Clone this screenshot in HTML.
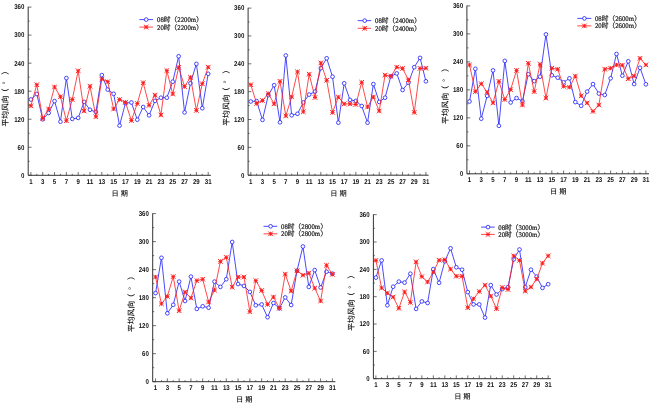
<!DOCTYPE html>
<html lang="zh"><head><meta charset="utf-8"><title>平均风向</title>
<style>
html,body{margin:0;padding:0;background:#fff}
svg{display:block}
text{text-rendering:geometricPrecision}
.t{font-family:"Liberation Sans","Noto Sans CJK SC",sans-serif;font-weight:bold;font-size:7.0px;fill:#111}
.l{font-family:"Liberation Serif","Noto Serif CJK SC",serif;font-weight:500;stroke:#222;stroke-width:0.2px;font-size:7.0px;fill:#111}
.y{font-family:"Liberation Sans","Noto Sans CJK SC",sans-serif;font-weight:500;font-size:7.8px;fill:#111}
.x{font-family:"Liberation Sans","Noto Sans CJK SC",sans-serif;font-weight:500;font-size:7.2px;fill:#111}
</style></head><body>
<svg width="652" height="404" viewBox="0 0 652 404">
<rect width="652" height="404" fill="#fff"/>
<g>
<path d="M28.2 6.8V175.3H210.9" fill="none" stroke="#333" stroke-width="1.0"/>
<path d="M28.2 175.3h3.3M28.2 161.28h1.5M28.2 147.27h3.3M28.2 133.25h1.5M28.2 119.23h3.3M28.2 105.22h1.5M28.2 91.2h3.3M28.2 77.18h1.5M28.2 63.17h3.3M28.2 49.15h1.5M28.2 35.13h3.3M28.2 21.12h1.5M28.2 7.1h3.3M30.9 175.3v-3.3M36.81 175.3v-1.5M42.72 175.3v-3.3M48.63 175.3v-1.5M54.54 175.3v-3.3M60.45 175.3v-1.5M66.36 175.3v-3.3M72.27 175.3v-1.5M78.18 175.3v-3.3M84.09 175.3v-1.5M90 175.3v-3.3M95.91 175.3v-1.5M101.82 175.3v-3.3M107.73 175.3v-1.5M113.64 175.3v-3.3M119.55 175.3v-1.5M125.46 175.3v-3.3M131.37 175.3v-1.5M137.28 175.3v-3.3M143.19 175.3v-1.5M149.1 175.3v-3.3M155.01 175.3v-1.5M160.92 175.3v-3.3M166.83 175.3v-1.5M172.74 175.3v-3.3M178.65 175.3v-1.5M184.56 175.3v-3.3M190.47 175.3v-1.5M196.38 175.3v-3.3M202.29 175.3v-1.5M208.2 175.3v-3.3" fill="none" stroke="#333" stroke-width="0.7"/>
<text class="t" x="21" y="177.65" textLength="3.4" lengthAdjust="spacingAndGlyphs">0</text><text class="t" x="17.6" y="149.62" textLength="6.8" lengthAdjust="spacingAndGlyphs">60</text><text class="t" x="14.2" y="121.58" textLength="10.2" lengthAdjust="spacingAndGlyphs">120</text><text class="t" x="14.2" y="93.55" textLength="10.2" lengthAdjust="spacingAndGlyphs">180</text><text class="t" x="14.2" y="65.52" textLength="10.2" lengthAdjust="spacingAndGlyphs">240</text><text class="t" x="14.2" y="37.48" textLength="10.2" lengthAdjust="spacingAndGlyphs">300</text><text class="t" x="14.2" y="9.45" textLength="10.2" lengthAdjust="spacingAndGlyphs">360</text>
<text class="t" x="29.2" y="183.9" textLength="3.4" lengthAdjust="spacingAndGlyphs">1</text><text class="t" x="41.02" y="183.9" textLength="3.4" lengthAdjust="spacingAndGlyphs">3</text><text class="t" x="52.84" y="183.9" textLength="3.4" lengthAdjust="spacingAndGlyphs">5</text><text class="t" x="64.66" y="183.9" textLength="3.4" lengthAdjust="spacingAndGlyphs">7</text><text class="t" x="76.48" y="183.9" textLength="3.4" lengthAdjust="spacingAndGlyphs">9</text><text class="t" x="86.6" y="183.9" textLength="6.8" lengthAdjust="spacingAndGlyphs">11</text><text class="t" x="98.42" y="183.9" textLength="6.8" lengthAdjust="spacingAndGlyphs">13</text><text class="t" x="110.24" y="183.9" textLength="6.8" lengthAdjust="spacingAndGlyphs">15</text><text class="t" x="122.06" y="183.9" textLength="6.8" lengthAdjust="spacingAndGlyphs">17</text><text class="t" x="133.88" y="183.9" textLength="6.8" lengthAdjust="spacingAndGlyphs">19</text><text class="t" x="145.7" y="183.9" textLength="6.8" lengthAdjust="spacingAndGlyphs">21</text><text class="t" x="157.52" y="183.9" textLength="6.8" lengthAdjust="spacingAndGlyphs">23</text><text class="t" x="169.34" y="183.9" textLength="6.8" lengthAdjust="spacingAndGlyphs">25</text><text class="t" x="181.16" y="183.9" textLength="6.8" lengthAdjust="spacingAndGlyphs">27</text><text class="t" x="192.98" y="183.9" textLength="6.8" lengthAdjust="spacingAndGlyphs">29</text><text class="t" x="204.8" y="183.9" textLength="6.8" lengthAdjust="spacingAndGlyphs">31</text>
<text class="x" x="120.75" y="195.6" text-anchor="middle" letter-spacing="2">日期</text>
<text class="y" transform="translate(7.66 126.6) rotate(-90)" x="0 7.8 15.6 23.4 30.42 42.14 51.98" y="0">平均风向（°）</text>
<polyline points="30.9,99.5 36.81,94 42.72,119.3 48.63,113 54.54,101.1 60.45,121.7 66.36,78.1 72.27,118.9 78.18,117.9 84.09,101.9 90,109.8 95.91,112 101.82,75.1 107.73,89.6 113.64,93.8 119.55,125.6 125.46,103.1 131.37,102.5 137.28,119.7 143.19,107 149.1,115.3 155.01,100.9 160.92,97.7 166.83,97.7 172.74,81.7 178.65,56.3 184.56,112.4 190.47,83.3 196.38,63.9 202.29,108.2 208.2,73.8" fill="none" stroke="#1a1aff" stroke-width="0.8" stroke-linejoin="round"/>
<g fill="#fff" stroke="#1a1aff" stroke-width="0.8"><circle cx="30.9" cy="99.5" r="1.85"/><circle cx="36.81" cy="94" r="1.85"/><circle cx="42.72" cy="119.3" r="1.85"/><circle cx="48.63" cy="113" r="1.85"/><circle cx="54.54" cy="101.1" r="1.85"/><circle cx="60.45" cy="121.7" r="1.85"/><circle cx="66.36" cy="78.1" r="1.85"/><circle cx="72.27" cy="118.9" r="1.85"/><circle cx="78.18" cy="117.9" r="1.85"/><circle cx="84.09" cy="101.9" r="1.85"/><circle cx="90" cy="109.8" r="1.85"/><circle cx="95.91" cy="112" r="1.85"/><circle cx="101.82" cy="75.1" r="1.85"/><circle cx="107.73" cy="89.6" r="1.85"/><circle cx="113.64" cy="93.8" r="1.85"/><circle cx="119.55" cy="125.6" r="1.85"/><circle cx="125.46" cy="103.1" r="1.85"/><circle cx="131.37" cy="102.5" r="1.85"/><circle cx="137.28" cy="119.7" r="1.85"/><circle cx="143.19" cy="107" r="1.85"/><circle cx="149.1" cy="115.3" r="1.85"/><circle cx="155.01" cy="100.9" r="1.85"/><circle cx="160.92" cy="97.7" r="1.85"/><circle cx="166.83" cy="97.7" r="1.85"/><circle cx="172.74" cy="81.7" r="1.85"/><circle cx="178.65" cy="56.3" r="1.85"/><circle cx="184.56" cy="112.4" r="1.85"/><circle cx="190.47" cy="83.3" r="1.85"/><circle cx="196.38" cy="63.9" r="1.85"/><circle cx="202.29" cy="108.2" r="1.85"/><circle cx="208.2" cy="73.8" r="1.85"/></g>
<polyline points="30.9,105.8 36.81,84.7 42.72,118.3 48.63,109 54.54,87 60.45,96.7 66.36,120.7 72.27,99.5 78.18,70.8 84.09,111 90,86.2 95.91,116.7 101.82,79.1 107.73,81.7 113.64,109 119.55,99.5 125.46,102.3 131.37,120.5 137.28,103.5 143.19,82.7 149.1,105.4 155.01,95.1 160.92,115 166.83,70.6 172.74,94 178.65,67.4 184.56,86.6 190.47,77.3 196.38,110.4 202.29,83.7 208.2,67.2" fill="none" stroke="#ff1a1a" stroke-width="0.8" stroke-linejoin="round"/>
<g fill="none" stroke="#ff1a1a" stroke-width="0.95"><path d="M28.6 103.5L33.2 108.1M28.6 108.1L33.2 103.5M30.9 103.8V107.8M28.9 105.8H32.9"/><path d="M34.51 82.4L39.11 87M34.51 87L39.11 82.4M36.81 82.7V86.7M34.81 84.7H38.81"/><path d="M40.42 116L45.02 120.6M40.42 120.6L45.02 116M42.72 116.3V120.3M40.72 118.3H44.72"/><path d="M46.33 106.7L50.93 111.3M46.33 111.3L50.93 106.7M48.63 107V111M46.63 109H50.63"/><path d="M52.24 84.7L56.84 89.3M52.24 89.3L56.84 84.7M54.54 85V89M52.54 87H56.54"/><path d="M58.15 94.4L62.75 99M58.15 99L62.75 94.4M60.45 94.7V98.7M58.45 96.7H62.45"/><path d="M64.06 118.4L68.66 123M64.06 123L68.66 118.4M66.36 118.7V122.7M64.36 120.7H68.36"/><path d="M69.97 97.2L74.57 101.8M69.97 101.8L74.57 97.2M72.27 97.5V101.5M70.27 99.5H74.27"/><path d="M75.88 68.5L80.48 73.1M75.88 73.1L80.48 68.5M78.18 68.8V72.8M76.18 70.8H80.18"/><path d="M81.79 108.7L86.39 113.3M81.79 113.3L86.39 108.7M84.09 109V113M82.09 111H86.09"/><path d="M87.7 83.9L92.3 88.5M87.7 88.5L92.3 83.9M90 84.2V88.2M88 86.2H92"/><path d="M93.61 114.4L98.21 119M93.61 119L98.21 114.4M95.91 114.7V118.7M93.91 116.7H97.91"/><path d="M99.52 76.8L104.12 81.4M99.52 81.4L104.12 76.8M101.82 77.1V81.1M99.82 79.1H103.82"/><path d="M105.43 79.4L110.03 84M105.43 84L110.03 79.4M107.73 79.7V83.7M105.73 81.7H109.73"/><path d="M111.34 106.7L115.94 111.3M111.34 111.3L115.94 106.7M113.64 107V111M111.64 109H115.64"/><path d="M117.25 97.2L121.85 101.8M117.25 101.8L121.85 97.2M119.55 97.5V101.5M117.55 99.5H121.55"/><path d="M123.16 100L127.76 104.6M123.16 104.6L127.76 100M125.46 100.3V104.3M123.46 102.3H127.46"/><path d="M129.07 118.2L133.67 122.8M129.07 122.8L133.67 118.2M131.37 118.5V122.5M129.37 120.5H133.37"/><path d="M134.98 101.2L139.58 105.8M134.98 105.8L139.58 101.2M137.28 101.5V105.5M135.28 103.5H139.28"/><path d="M140.89 80.4L145.49 85M140.89 85L145.49 80.4M143.19 80.7V84.7M141.19 82.7H145.19"/><path d="M146.8 103.1L151.4 107.7M146.8 107.7L151.4 103.1M149.1 103.4V107.4M147.1 105.4H151.1"/><path d="M152.71 92.8L157.31 97.4M152.71 97.4L157.31 92.8M155.01 93.1V97.1M153.01 95.1H157.01"/><path d="M158.62 112.7L163.22 117.3M158.62 117.3L163.22 112.7M160.92 113V117M158.92 115H162.92"/><path d="M164.53 68.3L169.13 72.9M164.53 72.9L169.13 68.3M166.83 68.6V72.6M164.83 70.6H168.83"/><path d="M170.44 91.7L175.04 96.3M170.44 96.3L175.04 91.7M172.74 92V96M170.74 94H174.74"/><path d="M176.35 65.1L180.95 69.7M176.35 69.7L180.95 65.1M178.65 65.4V69.4M176.65 67.4H180.65"/><path d="M182.26 84.3L186.86 88.9M182.26 88.9L186.86 84.3M184.56 84.6V88.6M182.56 86.6H186.56"/><path d="M188.17 75L192.77 79.6M188.17 79.6L192.77 75M190.47 75.3V79.3M188.47 77.3H192.47"/><path d="M194.08 108.1L198.68 112.7M194.08 112.7L198.68 108.1M196.38 108.4V112.4M194.38 110.4H198.38"/><path d="M199.99 81.4L204.59 86M199.99 86L204.59 81.4M202.29 81.7V85.7M200.29 83.7H204.29"/><path d="M205.9 64.9L210.5 69.5M205.9 69.5L210.5 64.9M208.2 65.2V69.2M206.2 67.2H210.2"/></g>
<path d="M139.4 19.6H153.1" stroke="#1a1aff" stroke-width="0.8"/><circle cx="146.2" cy="19.6" r="1.85" fill="#fff" stroke="#1a1aff" stroke-width="0.8"/><path d="M139.4 27.1H153.1" stroke="#ff1a1a" stroke-width="0.8"/><g fill="none" stroke="#ff1a1a" stroke-width="0.95"><path d="M143.9 24.8L148.5 29.4M143.9 29.4L148.5 24.8M146.2 25.1V29.1M144.2 27.1H148.2"/></g>
<text class="l" x="157" y="22.1" textLength="45.8" lengthAdjust="spacingAndGlyphs">08时（2200m）</text><text class="l" x="157" y="29.6" textLength="45.8" lengthAdjust="spacingAndGlyphs">20时（2200m）</text>
</g>
<g>
<path d="M248.1 7.8V175.2H428.6" fill="none" stroke="#333" stroke-width="1.0"/>
<path d="M248.1 175.2h3.3M248.1 161.27h1.5M248.1 147.35h3.3M248.1 133.42h1.5M248.1 119.5h3.3M248.1 105.57h1.5M248.1 91.65h3.3M248.1 77.72h1.5M248.1 63.8h3.3M248.1 49.88h1.5M248.1 35.95h3.3M248.1 22.03h1.5M248.1 8.1h3.3M250.8 175.2v-3.3M256.64 175.2v-1.5M262.47 175.2v-3.3M268.31 175.2v-1.5M274.15 175.2v-3.3M279.99 175.2v-1.5M285.82 175.2v-3.3M291.66 175.2v-1.5M297.5 175.2v-3.3M303.33 175.2v-1.5M309.17 175.2v-3.3M315.01 175.2v-1.5M320.84 175.2v-3.3M326.68 175.2v-1.5M332.52 175.2v-3.3M338.36 175.2v-1.5M344.19 175.2v-3.3M350.03 175.2v-1.5M355.87 175.2v-3.3M361.7 175.2v-1.5M367.54 175.2v-3.3M373.38 175.2v-1.5M379.21 175.2v-3.3M385.05 175.2v-1.5M390.89 175.2v-3.3M396.73 175.2v-1.5M402.56 175.2v-3.3M408.4 175.2v-1.5M414.24 175.2v-3.3M420.07 175.2v-1.5M425.91 175.2v-3.3" fill="none" stroke="#333" stroke-width="0.7"/>
<text class="t" x="240.9" y="177.55" textLength="3.4" lengthAdjust="spacingAndGlyphs">0</text><text class="t" x="237.5" y="149.7" textLength="6.8" lengthAdjust="spacingAndGlyphs">60</text><text class="t" x="234.1" y="121.85" textLength="10.2" lengthAdjust="spacingAndGlyphs">120</text><text class="t" x="234.1" y="94" textLength="10.2" lengthAdjust="spacingAndGlyphs">180</text><text class="t" x="234.1" y="66.15" textLength="10.2" lengthAdjust="spacingAndGlyphs">240</text><text class="t" x="234.1" y="38.3" textLength="10.2" lengthAdjust="spacingAndGlyphs">300</text><text class="t" x="234.1" y="10.45" textLength="10.2" lengthAdjust="spacingAndGlyphs">360</text>
<text class="t" x="249.1" y="183.8" textLength="3.4" lengthAdjust="spacingAndGlyphs">1</text><text class="t" x="260.77" y="183.8" textLength="3.4" lengthAdjust="spacingAndGlyphs">3</text><text class="t" x="272.45" y="183.8" textLength="3.4" lengthAdjust="spacingAndGlyphs">5</text><text class="t" x="284.12" y="183.8" textLength="3.4" lengthAdjust="spacingAndGlyphs">7</text><text class="t" x="295.8" y="183.8" textLength="3.4" lengthAdjust="spacingAndGlyphs">9</text><text class="t" x="305.77" y="183.8" textLength="6.8" lengthAdjust="spacingAndGlyphs">11</text><text class="t" x="317.44" y="183.8" textLength="6.8" lengthAdjust="spacingAndGlyphs">13</text><text class="t" x="329.12" y="183.8" textLength="6.8" lengthAdjust="spacingAndGlyphs">15</text><text class="t" x="340.79" y="183.8" textLength="6.8" lengthAdjust="spacingAndGlyphs">17</text><text class="t" x="352.47" y="183.8" textLength="6.8" lengthAdjust="spacingAndGlyphs">19</text><text class="t" x="364.14" y="183.8" textLength="6.8" lengthAdjust="spacingAndGlyphs">21</text><text class="t" x="375.81" y="183.8" textLength="6.8" lengthAdjust="spacingAndGlyphs">23</text><text class="t" x="387.49" y="183.8" textLength="6.8" lengthAdjust="spacingAndGlyphs">25</text><text class="t" x="399.16" y="183.8" textLength="6.8" lengthAdjust="spacingAndGlyphs">27</text><text class="t" x="410.84" y="183.8" textLength="6.8" lengthAdjust="spacingAndGlyphs">29</text><text class="t" x="422.51" y="183.8" textLength="6.8" lengthAdjust="spacingAndGlyphs">31</text>
<text class="x" x="339.55" y="195.5" text-anchor="middle" letter-spacing="2">日期</text>
<text class="y" transform="translate(229.01 125.7) rotate(-90)" x="0 7.8 15.6 23.4 30.42 42.14 51.98" y="0">平均风向（°）</text>
<polyline points="250.8,101.5 256.64,101.1 262.47,119.9 268.31,95.1 274.15,85.2 279.99,122.3 285.82,55.5 291.66,115.3 297.5,113.8 303.33,102.5 309.17,94.6 315.01,91.6 320.84,68.2 326.68,58.3 332.52,76.7 338.36,122.7 344.19,83.3 350.03,99.9 355.87,100.9 361.7,106 367.54,122.7 373.38,84.1 379.21,101.9 385.05,97.7 390.89,76.3 396.73,73.4 402.56,90 408.4,82.7 414.24,67.2 420.07,57.9 425.91,81.3" fill="none" stroke="#1a1aff" stroke-width="0.8" stroke-linejoin="round"/>
<g fill="#fff" stroke="#1a1aff" stroke-width="0.8"><circle cx="250.8" cy="101.5" r="1.85"/><circle cx="256.64" cy="101.1" r="1.85"/><circle cx="262.47" cy="119.9" r="1.85"/><circle cx="268.31" cy="95.1" r="1.85"/><circle cx="274.15" cy="85.2" r="1.85"/><circle cx="279.99" cy="122.3" r="1.85"/><circle cx="285.82" cy="55.5" r="1.85"/><circle cx="291.66" cy="115.3" r="1.85"/><circle cx="297.5" cy="113.8" r="1.85"/><circle cx="303.33" cy="102.5" r="1.85"/><circle cx="309.17" cy="94.6" r="1.85"/><circle cx="315.01" cy="91.6" r="1.85"/><circle cx="320.84" cy="68.2" r="1.85"/><circle cx="326.68" cy="58.3" r="1.85"/><circle cx="332.52" cy="76.7" r="1.85"/><circle cx="338.36" cy="122.7" r="1.85"/><circle cx="344.19" cy="83.3" r="1.85"/><circle cx="350.03" cy="99.9" r="1.85"/><circle cx="355.87" cy="100.9" r="1.85"/><circle cx="361.7" cy="106" r="1.85"/><circle cx="367.54" cy="122.7" r="1.85"/><circle cx="373.38" cy="84.1" r="1.85"/><circle cx="379.21" cy="101.9" r="1.85"/><circle cx="385.05" cy="97.7" r="1.85"/><circle cx="390.89" cy="76.3" r="1.85"/><circle cx="396.73" cy="73.4" r="1.85"/><circle cx="402.56" cy="90" r="1.85"/><circle cx="408.4" cy="82.7" r="1.85"/><circle cx="414.24" cy="67.2" r="1.85"/><circle cx="420.07" cy="57.9" r="1.85"/><circle cx="425.91" cy="81.3" r="1.85"/></g>
<polyline points="250.8,84.7 256.64,103.5 262.47,100.5 268.31,93.6 274.15,103.9 279.99,81.3 285.82,115.9 291.66,96.9 297.5,71.8 303.33,111.8 309.17,74.2 315.01,97.5 320.84,62.9 326.68,80.3 332.52,112.4 338.36,97.1 344.19,103.9 350.03,103.9 355.87,104.5 361.7,82.3 367.54,107 373.38,96.9 379.21,111 385.05,75.1 390.89,76.3 396.73,67.2 402.56,68.4 408.4,79.7 414.24,112.4 420.07,68.4 425.91,68.2" fill="none" stroke="#ff1a1a" stroke-width="0.8" stroke-linejoin="round"/>
<g fill="none" stroke="#ff1a1a" stroke-width="0.95"><path d="M248.5 82.4L253.1 87M248.5 87L253.1 82.4M250.8 82.7V86.7M248.8 84.7H252.8"/><path d="M254.34 101.2L258.94 105.8M254.34 105.8L258.94 101.2M256.64 101.5V105.5M254.64 103.5H258.64"/><path d="M260.17 98.2L264.77 102.8M260.17 102.8L264.77 98.2M262.47 98.5V102.5M260.47 100.5H264.47"/><path d="M266.01 91.3L270.61 95.9M266.01 95.9L270.61 91.3M268.31 91.6V95.6M266.31 93.6H270.31"/><path d="M271.85 101.6L276.45 106.2M271.85 106.2L276.45 101.6M274.15 101.9V105.9M272.15 103.9H276.15"/><path d="M277.69 79L282.29 83.6M277.69 83.6L282.29 79M279.99 79.3V83.3M277.99 81.3H281.99"/><path d="M283.52 113.6L288.12 118.2M283.52 118.2L288.12 113.6M285.82 113.9V117.9M283.82 115.9H287.82"/><path d="M289.36 94.6L293.96 99.2M289.36 99.2L293.96 94.6M291.66 94.9V98.9M289.66 96.9H293.66"/><path d="M295.2 69.5L299.8 74.1M295.2 74.1L299.8 69.5M297.5 69.8V73.8M295.5 71.8H299.5"/><path d="M301.03 109.5L305.63 114.1M301.03 114.1L305.63 109.5M303.33 109.8V113.8M301.33 111.8H305.33"/><path d="M306.87 71.9L311.47 76.5M306.87 76.5L311.47 71.9M309.17 72.2V76.2M307.17 74.2H311.17"/><path d="M312.71 95.2L317.31 99.8M312.71 99.8L317.31 95.2M315.01 95.5V99.5M313.01 97.5H317.01"/><path d="M318.54 60.6L323.14 65.2M318.54 65.2L323.14 60.6M320.84 60.9V64.9M318.84 62.9H322.84"/><path d="M324.38 78L328.98 82.6M324.38 82.6L328.98 78M326.68 78.3V82.3M324.68 80.3H328.68"/><path d="M330.22 110.1L334.82 114.7M330.22 114.7L334.82 110.1M332.52 110.4V114.4M330.52 112.4H334.52"/><path d="M336.06 94.8L340.66 99.4M336.06 99.4L340.66 94.8M338.36 95.1V99.1M336.36 97.1H340.36"/><path d="M341.89 101.6L346.49 106.2M341.89 106.2L346.49 101.6M344.19 101.9V105.9M342.19 103.9H346.19"/><path d="M347.73 101.6L352.33 106.2M347.73 106.2L352.33 101.6M350.03 101.9V105.9M348.03 103.9H352.03"/><path d="M353.57 102.2L358.17 106.8M353.57 106.8L358.17 102.2M355.87 102.5V106.5M353.87 104.5H357.87"/><path d="M359.4 80L364 84.6M359.4 84.6L364 80M361.7 80.3V84.3M359.7 82.3H363.7"/><path d="M365.24 104.7L369.84 109.3M365.24 109.3L369.84 104.7M367.54 105V109M365.54 107H369.54"/><path d="M371.08 94.6L375.68 99.2M371.08 99.2L375.68 94.6M373.38 94.9V98.9M371.38 96.9H375.38"/><path d="M376.91 108.7L381.51 113.3M376.91 113.3L381.51 108.7M379.21 109V113M377.21 111H381.21"/><path d="M382.75 72.8L387.35 77.4M382.75 77.4L387.35 72.8M385.05 73.1V77.1M383.05 75.1H387.05"/><path d="M388.59 74L393.19 78.6M388.59 78.6L393.19 74M390.89 74.3V78.3M388.89 76.3H392.89"/><path d="M394.43 64.9L399.03 69.5M394.43 69.5L399.03 64.9M396.73 65.2V69.2M394.73 67.2H398.73"/><path d="M400.26 66.1L404.86 70.7M400.26 70.7L404.86 66.1M402.56 66.4V70.4M400.56 68.4H404.56"/><path d="M406.1 77.4L410.7 82M406.1 82L410.7 77.4M408.4 77.7V81.7M406.4 79.7H410.4"/><path d="M411.94 110.1L416.54 114.7M411.94 114.7L416.54 110.1M414.24 110.4V114.4M412.24 112.4H416.24"/><path d="M417.77 66.1L422.37 70.7M417.77 70.7L422.37 66.1M420.07 66.4V70.4M418.07 68.4H422.07"/><path d="M423.61 65.9L428.21 70.5M423.61 70.5L428.21 65.9M425.91 66.2V70.2M423.91 68.2H427.91"/></g>
<path d="M357.7 20.65H371.2" stroke="#1a1aff" stroke-width="0.8"/><circle cx="364.7" cy="20.65" r="1.85" fill="#fff" stroke="#1a1aff" stroke-width="0.8"/><path d="M357.7 28.3H371.2" stroke="#ff1a1a" stroke-width="0.8"/><g fill="none" stroke="#ff1a1a" stroke-width="0.95"><path d="M362.4 26L367 30.6M362.4 30.6L367 26M364.7 26.3V30.3M362.7 28.3H366.7"/></g>
<text class="l" x="375" y="23.15" textLength="45.8" lengthAdjust="spacingAndGlyphs">08时（2400m）</text><text class="l" x="375" y="30.8" textLength="45.8" lengthAdjust="spacingAndGlyphs">20时（2400m）</text>
</g>
<g>
<path d="M466.9 5.6V173.8H649" fill="none" stroke="#333" stroke-width="1.0"/>
<path d="M466.9 173.8h3.3M466.9 159.81h1.5M466.9 145.82h3.3M466.9 131.83h1.5M466.9 117.83h3.3M466.9 103.84h1.5M466.9 89.85h3.3M466.9 75.86h1.5M466.9 61.87h3.3M466.9 47.88h1.5M466.9 33.88h3.3M466.9 19.89h1.5M466.9 5.9h3.3M469.5 173.8v-3.3M475.38 173.8v-1.5M481.26 173.8v-3.3M487.14 173.8v-1.5M493.02 173.8v-3.3M498.9 173.8v-1.5M504.78 173.8v-3.3M510.66 173.8v-1.5M516.54 173.8v-3.3M522.42 173.8v-1.5M528.3 173.8v-3.3M534.18 173.8v-1.5M540.06 173.8v-3.3M545.94 173.8v-1.5M551.82 173.8v-3.3M557.7 173.8v-1.5M563.58 173.8v-3.3M569.46 173.8v-1.5M575.34 173.8v-3.3M581.22 173.8v-1.5M587.1 173.8v-3.3M592.98 173.8v-1.5M598.86 173.8v-3.3M604.74 173.8v-1.5M610.62 173.8v-3.3M616.5 173.8v-1.5M622.38 173.8v-3.3M628.26 173.8v-1.5M634.14 173.8v-3.3M640.02 173.8v-1.5M645.9 173.8v-3.3" fill="none" stroke="#333" stroke-width="0.7"/>
<text class="t" x="459.7" y="176.15" textLength="3.4" lengthAdjust="spacingAndGlyphs">0</text><text class="t" x="456.3" y="148.17" textLength="6.8" lengthAdjust="spacingAndGlyphs">60</text><text class="t" x="452.9" y="120.18" textLength="10.2" lengthAdjust="spacingAndGlyphs">120</text><text class="t" x="452.9" y="92.2" textLength="10.2" lengthAdjust="spacingAndGlyphs">180</text><text class="t" x="452.9" y="64.22" textLength="10.2" lengthAdjust="spacingAndGlyphs">240</text><text class="t" x="452.9" y="36.23" textLength="10.2" lengthAdjust="spacingAndGlyphs">300</text><text class="t" x="452.9" y="8.25" textLength="10.2" lengthAdjust="spacingAndGlyphs">360</text>
<text class="t" x="467.8" y="182.4" textLength="3.4" lengthAdjust="spacingAndGlyphs">1</text><text class="t" x="479.56" y="182.4" textLength="3.4" lengthAdjust="spacingAndGlyphs">3</text><text class="t" x="491.32" y="182.4" textLength="3.4" lengthAdjust="spacingAndGlyphs">5</text><text class="t" x="503.08" y="182.4" textLength="3.4" lengthAdjust="spacingAndGlyphs">7</text><text class="t" x="514.84" y="182.4" textLength="3.4" lengthAdjust="spacingAndGlyphs">9</text><text class="t" x="524.9" y="182.4" textLength="6.8" lengthAdjust="spacingAndGlyphs">11</text><text class="t" x="536.66" y="182.4" textLength="6.8" lengthAdjust="spacingAndGlyphs">13</text><text class="t" x="548.42" y="182.4" textLength="6.8" lengthAdjust="spacingAndGlyphs">15</text><text class="t" x="560.18" y="182.4" textLength="6.8" lengthAdjust="spacingAndGlyphs">17</text><text class="t" x="571.94" y="182.4" textLength="6.8" lengthAdjust="spacingAndGlyphs">19</text><text class="t" x="583.7" y="182.4" textLength="6.8" lengthAdjust="spacingAndGlyphs">21</text><text class="t" x="595.46" y="182.4" textLength="6.8" lengthAdjust="spacingAndGlyphs">23</text><text class="t" x="607.22" y="182.4" textLength="6.8" lengthAdjust="spacingAndGlyphs">25</text><text class="t" x="618.98" y="182.4" textLength="6.8" lengthAdjust="spacingAndGlyphs">27</text><text class="t" x="630.74" y="182.4" textLength="6.8" lengthAdjust="spacingAndGlyphs">29</text><text class="t" x="642.5" y="182.4" textLength="6.8" lengthAdjust="spacingAndGlyphs">31</text>
<text class="x" x="559.15" y="194.1" text-anchor="middle" letter-spacing="2">日期</text>
<text class="y" transform="translate(447.61 124) rotate(-90)" x="0 7.8 15.6 23.4 30.42 42.14 51.98" y="0">平均风向（°）</text>
<polyline points="469.5,101.5 475.38,68.8 481.26,118.7 487.14,95.9 493.02,70.4 498.9,125.8 504.78,60.9 510.66,102.5 516.54,98.1 522.42,101.1 528.3,74.2 534.18,81.1 540.06,76.7 545.94,34.4 551.82,75.3 557.7,77.7 563.58,82.3 569.46,78.3 575.34,102.1 581.22,105.8 587.1,91.6 592.98,84.1 598.86,93.6 604.74,95 610.62,78.3 616.5,54 622.38,75.7 628.26,61.3 634.14,84.1 640.02,67.8 645.9,84.3" fill="none" stroke="#1a1aff" stroke-width="0.8" stroke-linejoin="round"/>
<g fill="#fff" stroke="#1a1aff" stroke-width="0.8"><circle cx="469.5" cy="101.5" r="1.85"/><circle cx="475.38" cy="68.8" r="1.85"/><circle cx="481.26" cy="118.7" r="1.85"/><circle cx="487.14" cy="95.9" r="1.85"/><circle cx="493.02" cy="70.4" r="1.85"/><circle cx="498.9" cy="125.8" r="1.85"/><circle cx="504.78" cy="60.9" r="1.85"/><circle cx="510.66" cy="102.5" r="1.85"/><circle cx="516.54" cy="98.1" r="1.85"/><circle cx="522.42" cy="101.1" r="1.85"/><circle cx="528.3" cy="74.2" r="1.85"/><circle cx="534.18" cy="81.1" r="1.85"/><circle cx="540.06" cy="76.7" r="1.85"/><circle cx="545.94" cy="34.4" r="1.85"/><circle cx="551.82" cy="75.3" r="1.85"/><circle cx="557.7" cy="77.7" r="1.85"/><circle cx="563.58" cy="82.3" r="1.85"/><circle cx="569.46" cy="78.3" r="1.85"/><circle cx="575.34" cy="102.1" r="1.85"/><circle cx="581.22" cy="105.8" r="1.85"/><circle cx="587.1" cy="91.6" r="1.85"/><circle cx="592.98" cy="84.1" r="1.85"/><circle cx="598.86" cy="93.6" r="1.85"/><circle cx="604.74" cy="95" r="1.85"/><circle cx="610.62" cy="78.3" r="1.85"/><circle cx="616.5" cy="54" r="1.85"/><circle cx="622.38" cy="75.7" r="1.85"/><circle cx="628.26" cy="61.3" r="1.85"/><circle cx="634.14" cy="84.1" r="1.85"/><circle cx="640.02" cy="67.8" r="1.85"/><circle cx="645.9" cy="84.3" r="1.85"/></g>
<polyline points="469.5,64.9 475.38,91.6 481.26,83.7 487.14,92.2 493.02,102.9 498.9,81.3 504.78,99.5 510.66,89.6 516.54,70.4 522.42,105 528.3,63.3 534.18,91.6 540.06,64.3 545.94,98.1 551.82,68.2 557.7,69.2 563.58,86.3 569.46,87.2 575.34,76.1 581.22,95.9 587.1,102.9 592.98,111.4 598.86,105 604.74,69.2 610.62,68.2 616.5,64.9 622.38,65.2 628.26,78.7 634.14,76.1 640.02,58.3 645.9,64.9" fill="none" stroke="#ff1a1a" stroke-width="0.8" stroke-linejoin="round"/>
<g fill="none" stroke="#ff1a1a" stroke-width="0.95"><path d="M467.2 62.6L471.8 67.2M467.2 67.2L471.8 62.6M469.5 62.9V66.9M467.5 64.9H471.5"/><path d="M473.08 89.3L477.68 93.9M473.08 93.9L477.68 89.3M475.38 89.6V93.6M473.38 91.6H477.38"/><path d="M478.96 81.4L483.56 86M478.96 86L483.56 81.4M481.26 81.7V85.7M479.26 83.7H483.26"/><path d="M484.84 89.9L489.44 94.5M484.84 94.5L489.44 89.9M487.14 90.2V94.2M485.14 92.2H489.14"/><path d="M490.72 100.6L495.32 105.2M490.72 105.2L495.32 100.6M493.02 100.9V104.9M491.02 102.9H495.02"/><path d="M496.6 79L501.2 83.6M496.6 83.6L501.2 79M498.9 79.3V83.3M496.9 81.3H500.9"/><path d="M502.48 97.2L507.08 101.8M502.48 101.8L507.08 97.2M504.78 97.5V101.5M502.78 99.5H506.78"/><path d="M508.36 87.3L512.96 91.9M508.36 91.9L512.96 87.3M510.66 87.6V91.6M508.66 89.6H512.66"/><path d="M514.24 68.1L518.84 72.7M514.24 72.7L518.84 68.1M516.54 68.4V72.4M514.54 70.4H518.54"/><path d="M520.12 102.7L524.72 107.3M520.12 107.3L524.72 102.7M522.42 103V107M520.42 105H524.42"/><path d="M526 61L530.6 65.6M526 65.6L530.6 61M528.3 61.3V65.3M526.3 63.3H530.3"/><path d="M531.88 89.3L536.48 93.9M531.88 93.9L536.48 89.3M534.18 89.6V93.6M532.18 91.6H536.18"/><path d="M537.76 62L542.36 66.6M537.76 66.6L542.36 62M540.06 62.3V66.3M538.06 64.3H542.06"/><path d="M543.64 95.8L548.24 100.4M543.64 100.4L548.24 95.8M545.94 96.1V100.1M543.94 98.1H547.94"/><path d="M549.52 65.9L554.12 70.5M549.52 70.5L554.12 65.9M551.82 66.2V70.2M549.82 68.2H553.82"/><path d="M555.4 66.9L560 71.5M555.4 71.5L560 66.9M557.7 67.2V71.2M555.7 69.2H559.7"/><path d="M561.28 84L565.88 88.6M561.28 88.6L565.88 84M563.58 84.3V88.3M561.58 86.3H565.58"/><path d="M567.16 84.9L571.76 89.5M567.16 89.5L571.76 84.9M569.46 85.2V89.2M567.46 87.2H571.46"/><path d="M573.04 73.8L577.64 78.4M573.04 78.4L577.64 73.8M575.34 74.1V78.1M573.34 76.1H577.34"/><path d="M578.92 93.6L583.52 98.2M578.92 98.2L583.52 93.6M581.22 93.9V97.9M579.22 95.9H583.22"/><path d="M584.8 100.6L589.4 105.2M584.8 105.2L589.4 100.6M587.1 100.9V104.9M585.1 102.9H589.1"/><path d="M590.68 109.1L595.28 113.7M590.68 113.7L595.28 109.1M592.98 109.4V113.4M590.98 111.4H594.98"/><path d="M596.56 102.7L601.16 107.3M596.56 107.3L601.16 102.7M598.86 103V107M596.86 105H600.86"/><path d="M602.44 66.9L607.04 71.5M602.44 71.5L607.04 66.9M604.74 67.2V71.2M602.74 69.2H606.74"/><path d="M608.32 65.9L612.92 70.5M608.32 70.5L612.92 65.9M610.62 66.2V70.2M608.62 68.2H612.62"/><path d="M614.2 62.6L618.8 67.2M614.2 67.2L618.8 62.6M616.5 62.9V66.9M614.5 64.9H618.5"/><path d="M620.08 62.9L624.68 67.5M620.08 67.5L624.68 62.9M622.38 63.2V67.2M620.38 65.2H624.38"/><path d="M625.96 76.4L630.56 81M625.96 81L630.56 76.4M628.26 76.7V80.7M626.26 78.7H630.26"/><path d="M631.84 73.8L636.44 78.4M631.84 78.4L636.44 73.8M634.14 74.1V78.1M632.14 76.1H636.14"/><path d="M637.72 56L642.32 60.6M637.72 60.6L642.32 56M640.02 56.3V60.3M638.02 58.3H642.02"/><path d="M643.6 62.6L648.2 67.2M643.6 67.2L648.2 62.6M645.9 62.9V66.9M643.9 64.9H647.9"/></g>
<path d="M577.3 18.4H591.3" stroke="#1a1aff" stroke-width="0.8"/><circle cx="584.4" cy="18.4" r="1.85" fill="#fff" stroke="#1a1aff" stroke-width="0.8"/><path d="M577.3 25.9H591.3" stroke="#ff1a1a" stroke-width="0.8"/><g fill="none" stroke="#ff1a1a" stroke-width="0.95"><path d="M582.1 23.6L586.7 28.2M582.1 28.2L586.7 23.6M584.4 23.9V27.9M582.4 25.9H586.4"/></g>
<text class="l" x="594.9" y="20.9" textLength="45.8" lengthAdjust="spacingAndGlyphs">08时（2600m）</text><text class="l" x="594.9" y="28.4" textLength="45.8" lengthAdjust="spacingAndGlyphs">20时（2600m）</text>
</g>
<g>
<path d="M152.7 213.3V381.7H335.4" fill="none" stroke="#333" stroke-width="1.0"/>
<path d="M152.7 381.7h3.3M152.7 367.69h1.5M152.7 353.68h3.3M152.7 339.68h1.5M152.7 325.67h3.3M152.7 311.66h1.5M152.7 297.65h3.3M152.7 283.64h1.5M152.7 269.63h3.3M152.7 255.62h1.5M152.7 241.62h3.3M152.7 227.61h1.5M152.7 213.6h3.3M155.55 381.7v-3.3M161.45 381.7v-1.5M167.34 381.7v-3.3M173.24 381.7v-1.5M179.13 381.7v-3.3M185.03 381.7v-1.5M190.92 381.7v-3.3M196.81 381.7v-1.5M202.71 381.7v-3.3M208.61 381.7v-1.5M214.5 381.7v-3.3M220.4 381.7v-1.5M226.29 381.7v-3.3M232.19 381.7v-1.5M238.08 381.7v-3.3M243.98 381.7v-1.5M249.87 381.7v-3.3M255.76 381.7v-1.5M261.66 381.7v-3.3M267.56 381.7v-1.5M273.45 381.7v-3.3M279.35 381.7v-1.5M285.24 381.7v-3.3M291.13 381.7v-1.5M297.03 381.7v-3.3M302.93 381.7v-1.5M308.82 381.7v-3.3M314.72 381.7v-1.5M320.61 381.7v-3.3M326.5 381.7v-1.5M332.4 381.7v-3.3" fill="none" stroke="#333" stroke-width="0.7"/>
<text class="t" x="145.5" y="384.05" textLength="3.4" lengthAdjust="spacingAndGlyphs">0</text><text class="t" x="142.1" y="356.03" textLength="6.8" lengthAdjust="spacingAndGlyphs">60</text><text class="t" x="138.7" y="328.02" textLength="10.2" lengthAdjust="spacingAndGlyphs">120</text><text class="t" x="138.7" y="300" textLength="10.2" lengthAdjust="spacingAndGlyphs">180</text><text class="t" x="138.7" y="271.98" textLength="10.2" lengthAdjust="spacingAndGlyphs">240</text><text class="t" x="138.7" y="243.97" textLength="10.2" lengthAdjust="spacingAndGlyphs">300</text><text class="t" x="138.7" y="215.95" textLength="10.2" lengthAdjust="spacingAndGlyphs">360</text>
<text class="t" x="153.85" y="390.3" textLength="3.4" lengthAdjust="spacingAndGlyphs">1</text><text class="t" x="165.64" y="390.3" textLength="3.4" lengthAdjust="spacingAndGlyphs">3</text><text class="t" x="177.43" y="390.3" textLength="3.4" lengthAdjust="spacingAndGlyphs">5</text><text class="t" x="189.22" y="390.3" textLength="3.4" lengthAdjust="spacingAndGlyphs">7</text><text class="t" x="201.01" y="390.3" textLength="3.4" lengthAdjust="spacingAndGlyphs">9</text><text class="t" x="211.1" y="390.3" textLength="6.8" lengthAdjust="spacingAndGlyphs">11</text><text class="t" x="222.89" y="390.3" textLength="6.8" lengthAdjust="spacingAndGlyphs">13</text><text class="t" x="234.68" y="390.3" textLength="6.8" lengthAdjust="spacingAndGlyphs">15</text><text class="t" x="246.47" y="390.3" textLength="6.8" lengthAdjust="spacingAndGlyphs">17</text><text class="t" x="258.26" y="390.3" textLength="6.8" lengthAdjust="spacingAndGlyphs">19</text><text class="t" x="270.05" y="390.3" textLength="6.8" lengthAdjust="spacingAndGlyphs">21</text><text class="t" x="281.84" y="390.3" textLength="6.8" lengthAdjust="spacingAndGlyphs">23</text><text class="t" x="293.63" y="390.3" textLength="6.8" lengthAdjust="spacingAndGlyphs">25</text><text class="t" x="305.42" y="390.3" textLength="6.8" lengthAdjust="spacingAndGlyphs">27</text><text class="t" x="317.21" y="390.3" textLength="6.8" lengthAdjust="spacingAndGlyphs">29</text><text class="t" x="329" y="390.3" textLength="6.8" lengthAdjust="spacingAndGlyphs">31</text>
<text class="x" x="245.25" y="402" text-anchor="middle" letter-spacing="2">日期</text>
<text class="y" transform="translate(133.61 332) rotate(-90)" x="0 7.8 15.6 23.4 30.42 42.14 51.98" y="0">平均风向（°）</text>
<polyline points="155.55,293.1 161.45,257.8 167.34,313.3 173.24,304.8 179.13,281.6 185.03,301 190.92,276.6 196.81,308.9 202.71,306.3 208.61,307.7 214.5,281.6 220.4,286.9 226.29,279.2 232.19,242 238.08,284 243.98,285.9 249.87,291.9 255.76,305.3 261.66,304.4 267.56,317.2 273.45,303 279.35,308.3 285.24,297.4 291.13,305 297.03,270.7 302.93,246.5 308.82,286.9 314.72,270.1 320.61,287.5 326.5,271.7 332.4,273.7" fill="none" stroke="#1a1aff" stroke-width="0.8" stroke-linejoin="round"/>
<g fill="#fff" stroke="#1a1aff" stroke-width="0.8"><circle cx="155.55" cy="293.1" r="1.85"/><circle cx="161.45" cy="257.8" r="1.85"/><circle cx="167.34" cy="313.3" r="1.85"/><circle cx="173.24" cy="304.8" r="1.85"/><circle cx="179.13" cy="281.6" r="1.85"/><circle cx="185.03" cy="301" r="1.85"/><circle cx="190.92" cy="276.6" r="1.85"/><circle cx="196.81" cy="308.9" r="1.85"/><circle cx="202.71" cy="306.3" r="1.85"/><circle cx="208.61" cy="307.7" r="1.85"/><circle cx="214.5" cy="281.6" r="1.85"/><circle cx="220.4" cy="286.9" r="1.85"/><circle cx="226.29" cy="279.2" r="1.85"/><circle cx="232.19" cy="242" r="1.85"/><circle cx="238.08" cy="284" r="1.85"/><circle cx="243.98" cy="285.9" r="1.85"/><circle cx="249.87" cy="291.9" r="1.85"/><circle cx="255.76" cy="305.3" r="1.85"/><circle cx="261.66" cy="304.4" r="1.85"/><circle cx="267.56" cy="317.2" r="1.85"/><circle cx="273.45" cy="303" r="1.85"/><circle cx="279.35" cy="308.3" r="1.85"/><circle cx="285.24" cy="297.4" r="1.85"/><circle cx="291.13" cy="305" r="1.85"/><circle cx="297.03" cy="270.7" r="1.85"/><circle cx="302.93" cy="246.5" r="1.85"/><circle cx="308.82" cy="286.9" r="1.85"/><circle cx="314.72" cy="270.1" r="1.85"/><circle cx="320.61" cy="287.5" r="1.85"/><circle cx="326.5" cy="271.7" r="1.85"/><circle cx="332.4" cy="273.7" r="1.85"/></g>
<polyline points="155.55,277 161.45,303.8 167.34,296.4 173.24,276.6 179.13,310.7 185.03,292.1 190.92,298 196.81,280.6 202.71,279.2 208.61,302 214.5,290.1 220.4,261.4 226.29,257.4 232.19,287.1 238.08,277 243.98,277 249.87,311.7 255.76,280.6 261.66,290.5 267.56,304.4 273.45,297 279.35,308.3 285.24,274.1 291.13,291.1 297.03,270.7 302.93,275.2 308.82,273.1 314.72,288.1 320.61,301 326.5,265.3 332.4,274.3" fill="none" stroke="#ff1a1a" stroke-width="0.8" stroke-linejoin="round"/>
<g fill="none" stroke="#ff1a1a" stroke-width="0.95"><path d="M153.25 274.7L157.85 279.3M153.25 279.3L157.85 274.7M155.55 275V279M153.55 277H157.55"/><path d="M159.15 301.5L163.75 306.1M159.15 306.1L163.75 301.5M161.45 301.8V305.8M159.45 303.8H163.45"/><path d="M165.04 294.1L169.64 298.7M165.04 298.7L169.64 294.1M167.34 294.4V298.4M165.34 296.4H169.34"/><path d="M170.94 274.3L175.54 278.9M170.94 278.9L175.54 274.3M173.24 274.6V278.6M171.24 276.6H175.24"/><path d="M176.83 308.4L181.43 313M176.83 313L181.43 308.4M179.13 308.7V312.7M177.13 310.7H181.13"/><path d="M182.72 289.8L187.33 294.4M182.72 294.4L187.33 289.8M185.03 290.1V294.1M183.03 292.1H187.03"/><path d="M188.62 295.7L193.22 300.3M188.62 300.3L193.22 295.7M190.92 296V300M188.92 298H192.92"/><path d="M194.51 278.3L199.12 282.9M194.51 282.9L199.12 278.3M196.81 278.6V282.6M194.81 280.6H198.81"/><path d="M200.41 276.9L205.01 281.5M200.41 281.5L205.01 276.9M202.71 277.2V281.2M200.71 279.2H204.71"/><path d="M206.31 299.7L210.91 304.3M206.31 304.3L210.91 299.7M208.61 300V304M206.61 302H210.61"/><path d="M212.2 287.8L216.8 292.4M212.2 292.4L216.8 287.8M214.5 288.1V292.1M212.5 290.1H216.5"/><path d="M218.09 259.1L222.7 263.7M218.09 263.7L222.7 259.1M220.4 259.4V263.4M218.4 261.4H222.4"/><path d="M223.99 255.1L228.59 259.7M223.99 259.7L228.59 255.1M226.29 255.4V259.4M224.29 257.4H228.29"/><path d="M229.88 284.8L234.49 289.4M229.88 289.4L234.49 284.8M232.19 285.1V289.1M230.19 287.1H234.19"/><path d="M235.78 274.7L240.38 279.3M235.78 279.3L240.38 274.7M238.08 275V279M236.08 277H240.08"/><path d="M241.68 274.7L246.28 279.3M241.68 279.3L246.28 274.7M243.98 275V279M241.98 277H245.98"/><path d="M247.57 309.4L252.17 314M247.57 314L252.17 309.4M249.87 309.7V313.7M247.87 311.7H251.87"/><path d="M253.46 278.3L258.06 282.9M253.46 282.9L258.06 278.3M255.76 278.6V282.6M253.76 280.6H257.76"/><path d="M259.36 288.2L263.96 292.8M259.36 292.8L263.96 288.2M261.66 288.5V292.5M259.66 290.5H263.66"/><path d="M265.25 302.1L269.86 306.7M265.25 306.7L269.86 302.1M267.56 302.4V306.4M265.56 304.4H269.56"/><path d="M271.15 294.7L275.75 299.3M271.15 299.3L275.75 294.7M273.45 295V299M271.45 297H275.45"/><path d="M277.05 306L281.65 310.6M277.05 310.6L281.65 306M279.35 306.3V310.3M277.35 308.3H281.35"/><path d="M282.94 271.8L287.54 276.4M282.94 276.4L287.54 271.8M285.24 272.1V276.1M283.24 274.1H287.24"/><path d="M288.83 288.8L293.44 293.4M288.83 293.4L293.44 288.8M291.13 289.1V293.1M289.13 291.1H293.13"/><path d="M294.73 268.4L299.33 273M294.73 273L299.33 268.4M297.03 268.7V272.7M295.03 270.7H299.03"/><path d="M300.62 272.9L305.23 277.5M300.62 277.5L305.23 272.9M302.93 273.2V277.2M300.93 275.2H304.93"/><path d="M306.52 270.8L311.12 275.4M306.52 275.4L311.12 270.8M308.82 271.1V275.1M306.82 273.1H310.82"/><path d="M312.42 285.8L317.02 290.4M312.42 290.4L317.02 285.8M314.72 286.1V290.1M312.72 288.1H316.72"/><path d="M318.31 298.7L322.91 303.3M318.31 303.3L322.91 298.7M320.61 299V303M318.61 301H322.61"/><path d="M324.2 263L328.81 267.6M324.2 267.6L328.81 263M326.5 263.3V267.3M324.5 265.3H328.5"/><path d="M330.1 272L334.7 276.6M330.1 276.6L334.7 272M332.4 272.3V276.3M330.4 274.3H334.4"/></g>
<path d="M263.5 226.3H277.3" stroke="#1a1aff" stroke-width="0.8"/><circle cx="270.6" cy="226.3" r="1.85" fill="#fff" stroke="#1a1aff" stroke-width="0.8"/><path d="M263.5 233.8H277.3" stroke="#ff1a1a" stroke-width="0.8"/><g fill="none" stroke="#ff1a1a" stroke-width="0.95"><path d="M268.3 231.5L272.9 236.1M268.3 236.1L272.9 231.5M270.6 231.8V235.8M268.6 233.8H272.6"/></g>
<text class="l" x="281.1" y="228.8" textLength="45.8" lengthAdjust="spacingAndGlyphs">08时（2800m）</text><text class="l" x="281.1" y="236.3" textLength="45.8" lengthAdjust="spacingAndGlyphs">20时（2800m）</text>
</g>
<g>
<path d="M373.4 214.35V378.7H550.9" fill="none" stroke="#333" stroke-width="1.0"/>
<path d="M373.4 378.7h3.3M373.4 365.03h1.5M373.4 351.36h3.3M373.4 337.69h1.5M373.4 324.02h3.3M373.4 310.35h1.5M373.4 296.68h3.3M373.4 283h1.5M373.4 269.33h3.3M373.4 255.66h1.5M373.4 241.99h3.3M373.4 228.32h1.5M373.4 214.65h3.3M375.9 378.7v-3.3M381.64 378.7v-1.5M387.39 378.7v-3.3M393.13 378.7v-1.5M398.87 378.7v-3.3M404.62 378.7v-1.5M410.36 378.7v-3.3M416.1 378.7v-1.5M421.84 378.7v-3.3M427.59 378.7v-1.5M433.33 378.7v-3.3M439.07 378.7v-1.5M444.82 378.7v-3.3M450.56 378.7v-1.5M456.3 378.7v-3.3M462.04 378.7v-1.5M467.79 378.7v-3.3M473.53 378.7v-1.5M479.27 378.7v-3.3M485.02 378.7v-1.5M490.76 378.7v-3.3M496.5 378.7v-1.5M502.25 378.7v-3.3M507.99 378.7v-1.5M513.73 378.7v-3.3M519.48 378.7v-1.5M525.22 378.7v-3.3M530.96 378.7v-1.5M536.7 378.7v-3.3M542.45 378.7v-1.5M548.19 378.7v-3.3" fill="none" stroke="#333" stroke-width="0.7"/>
<text class="t" x="366.2" y="381.05" textLength="3.4" lengthAdjust="spacingAndGlyphs">0</text><text class="t" x="362.8" y="353.71" textLength="6.8" lengthAdjust="spacingAndGlyphs">60</text><text class="t" x="359.4" y="326.37" textLength="10.2" lengthAdjust="spacingAndGlyphs">120</text><text class="t" x="359.4" y="299.03" textLength="10.2" lengthAdjust="spacingAndGlyphs">180</text><text class="t" x="359.4" y="271.68" textLength="10.2" lengthAdjust="spacingAndGlyphs">240</text><text class="t" x="359.4" y="244.34" textLength="10.2" lengthAdjust="spacingAndGlyphs">300</text><text class="t" x="359.4" y="217" textLength="10.2" lengthAdjust="spacingAndGlyphs">360</text>
<text class="t" x="374.2" y="387.3" textLength="3.4" lengthAdjust="spacingAndGlyphs">1</text><text class="t" x="385.69" y="387.3" textLength="3.4" lengthAdjust="spacingAndGlyphs">3</text><text class="t" x="397.17" y="387.3" textLength="3.4" lengthAdjust="spacingAndGlyphs">5</text><text class="t" x="408.66" y="387.3" textLength="3.4" lengthAdjust="spacingAndGlyphs">7</text><text class="t" x="420.14" y="387.3" textLength="3.4" lengthAdjust="spacingAndGlyphs">9</text><text class="t" x="429.93" y="387.3" textLength="6.8" lengthAdjust="spacingAndGlyphs">11</text><text class="t" x="441.42" y="387.3" textLength="6.8" lengthAdjust="spacingAndGlyphs">13</text><text class="t" x="452.9" y="387.3" textLength="6.8" lengthAdjust="spacingAndGlyphs">15</text><text class="t" x="464.39" y="387.3" textLength="6.8" lengthAdjust="spacingAndGlyphs">17</text><text class="t" x="475.87" y="387.3" textLength="6.8" lengthAdjust="spacingAndGlyphs">19</text><text class="t" x="487.36" y="387.3" textLength="6.8" lengthAdjust="spacingAndGlyphs">21</text><text class="t" x="498.85" y="387.3" textLength="6.8" lengthAdjust="spacingAndGlyphs">23</text><text class="t" x="510.33" y="387.3" textLength="6.8" lengthAdjust="spacingAndGlyphs">25</text><text class="t" x="521.82" y="387.3" textLength="6.8" lengthAdjust="spacingAndGlyphs">27</text><text class="t" x="533.3" y="387.3" textLength="6.8" lengthAdjust="spacingAndGlyphs">29</text><text class="t" x="544.79" y="387.3" textLength="6.8" lengthAdjust="spacingAndGlyphs">31</text>
<text class="x" x="463.35" y="399" text-anchor="middle" letter-spacing="2">日期</text>
<text class="y" transform="translate(354.26 330.75) rotate(-90)" x="0 7.8 15.6 23.4 30.42 42.14 51.98" y="0">平均风向（°）</text>
<polyline points="375.9,277.6 381.64,260.4 387.39,305.3 393.13,286.7 398.87,281.6 404.62,282.6 410.36,273.7 416.1,308.9 421.84,301.4 427.59,303 433.33,269.1 439.07,282.8 444.82,261.2 450.56,248.3 456.3,267.3 462.04,269.7 467.79,292.1 473.53,304.4 479.27,304.4 485.02,317.6 490.76,285.1 496.5,294.5 502.25,289.1 507.99,287.1 513.73,259.4 519.48,249.5 525.22,287.1 530.96,269.7 536.7,276.6 542.45,287.9 548.19,284.2" fill="none" stroke="#1a1aff" stroke-width="0.8" stroke-linejoin="round"/>
<g fill="#fff" stroke="#1a1aff" stroke-width="0.8"><circle cx="375.9" cy="277.6" r="1.85"/><circle cx="381.64" cy="260.4" r="1.85"/><circle cx="387.39" cy="305.3" r="1.85"/><circle cx="393.13" cy="286.7" r="1.85"/><circle cx="398.87" cy="281.6" r="1.85"/><circle cx="404.62" cy="282.6" r="1.85"/><circle cx="410.36" cy="273.7" r="1.85"/><circle cx="416.1" cy="308.9" r="1.85"/><circle cx="421.84" cy="301.4" r="1.85"/><circle cx="427.59" cy="303" r="1.85"/><circle cx="433.33" cy="269.1" r="1.85"/><circle cx="439.07" cy="282.8" r="1.85"/><circle cx="444.82" cy="261.2" r="1.85"/><circle cx="450.56" cy="248.3" r="1.85"/><circle cx="456.3" cy="267.3" r="1.85"/><circle cx="462.04" cy="269.7" r="1.85"/><circle cx="467.79" cy="292.1" r="1.85"/><circle cx="473.53" cy="304.4" r="1.85"/><circle cx="479.27" cy="304.4" r="1.85"/><circle cx="485.02" cy="317.6" r="1.85"/><circle cx="490.76" cy="285.1" r="1.85"/><circle cx="496.5" cy="294.5" r="1.85"/><circle cx="502.25" cy="289.1" r="1.85"/><circle cx="507.99" cy="287.1" r="1.85"/><circle cx="513.73" cy="259.4" r="1.85"/><circle cx="519.48" cy="249.5" r="1.85"/><circle cx="525.22" cy="287.1" r="1.85"/><circle cx="530.96" cy="269.7" r="1.85"/><circle cx="536.7" cy="276.6" r="1.85"/><circle cx="542.45" cy="287.9" r="1.85"/><circle cx="548.19" cy="284.2" r="1.85"/></g>
<polyline points="375.9,260.4 381.64,287.9 387.39,293.1 393.13,297 398.87,308.3 404.62,291.9 410.36,302.4 416.1,261.8 421.84,276.6 427.59,282 433.33,272.1 439.07,260.2 444.82,259.8 450.56,269.1 456.3,276.2 462.04,276.2 467.79,307.7 473.53,298.8 479.27,291.5 485.02,285.1 490.76,296 496.5,308.7 502.25,287.5 507.99,289.5 513.73,255.8 519.48,260.4 525.22,291.1 530.96,287.1 536.7,279.2 542.45,263.2 548.19,255.8" fill="none" stroke="#ff1a1a" stroke-width="0.8" stroke-linejoin="round"/>
<g fill="none" stroke="#ff1a1a" stroke-width="0.95"><path d="M373.6 258.1L378.2 262.7M373.6 262.7L378.2 258.1M375.9 258.4V262.4M373.9 260.4H377.9"/><path d="M379.34 285.6L383.94 290.2M379.34 290.2L383.94 285.6M381.64 285.9V289.9M379.64 287.9H383.64"/><path d="M385.09 290.8L389.69 295.4M385.09 295.4L389.69 290.8M387.39 291.1V295.1M385.39 293.1H389.39"/><path d="M390.83 294.7L395.43 299.3M390.83 299.3L395.43 294.7M393.13 295V299M391.13 297H395.13"/><path d="M396.57 306L401.17 310.6M396.57 310.6L401.17 306M398.87 306.3V310.3M396.87 308.3H400.87"/><path d="M402.31 289.6L406.92 294.2M402.31 294.2L406.92 289.6M404.62 289.9V293.9M402.62 291.9H406.62"/><path d="M408.06 300.1L412.66 304.7M408.06 304.7L412.66 300.1M410.36 300.4V304.4M408.36 302.4H412.36"/><path d="M413.8 259.5L418.4 264.1M413.8 264.1L418.4 259.5M416.1 259.8V263.8M414.1 261.8H418.1"/><path d="M419.54 274.3L424.14 278.9M419.54 278.9L424.14 274.3M421.84 274.6V278.6M419.84 276.6H423.84"/><path d="M425.29 279.7L429.89 284.3M425.29 284.3L429.89 279.7M427.59 280V284M425.59 282H429.59"/><path d="M431.03 269.8L435.63 274.4M431.03 274.4L435.63 269.8M433.33 270.1V274.1M431.33 272.1H435.33"/><path d="M436.77 257.9L441.37 262.5M436.77 262.5L441.37 257.9M439.07 258.2V262.2M437.07 260.2H441.07"/><path d="M442.52 257.5L447.12 262.1M442.52 262.1L447.12 257.5M444.82 257.8V261.8M442.82 259.8H446.82"/><path d="M448.26 266.8L452.86 271.4M448.26 271.4L452.86 266.8M450.56 267.1V271.1M448.56 269.1H452.56"/><path d="M454 273.9L458.6 278.5M454 278.5L458.6 273.9M456.3 274.2V278.2M454.3 276.2H458.3"/><path d="M459.74 273.9L464.34 278.5M459.74 278.5L464.34 273.9M462.04 274.2V278.2M460.04 276.2H464.04"/><path d="M465.49 305.4L470.09 310M465.49 310L470.09 305.4M467.79 305.7V309.7M465.79 307.7H469.79"/><path d="M471.23 296.5L475.83 301.1M471.23 301.1L475.83 296.5M473.53 296.8V300.8M471.53 298.8H475.53"/><path d="M476.97 289.2L481.57 293.8M476.97 293.8L481.57 289.2M479.27 289.5V293.5M477.27 291.5H481.27"/><path d="M482.72 282.8L487.32 287.4M482.72 287.4L487.32 282.8M485.02 283.1V287.1M483.02 285.1H487.02"/><path d="M488.46 293.7L493.06 298.3M488.46 298.3L493.06 293.7M490.76 294V298M488.76 296H492.76"/><path d="M494.2 306.4L498.8 311M494.2 311L498.8 306.4M496.5 306.7V310.7M494.5 308.7H498.5"/><path d="M499.95 285.2L504.55 289.8M499.95 289.8L504.55 285.2M502.25 285.5V289.5M500.25 287.5H504.25"/><path d="M505.69 287.2L510.29 291.8M505.69 291.8L510.29 287.2M507.99 287.5V291.5M505.99 289.5H509.99"/><path d="M511.43 253.5L516.03 258.1M511.43 258.1L516.03 253.5M513.73 253.8V257.8M511.73 255.8H515.73"/><path d="M517.18 258.1L521.77 262.7M517.18 262.7L521.77 258.1M519.48 258.4V262.4M517.48 260.4H521.48"/><path d="M522.92 288.8L527.52 293.4M522.92 293.4L527.52 288.8M525.22 289.1V293.1M523.22 291.1H527.22"/><path d="M528.66 284.8L533.26 289.4M528.66 289.4L533.26 284.8M530.96 285.1V289.1M528.96 287.1H532.96"/><path d="M534.4 276.9L539 281.5M534.4 281.5L539 276.9M536.7 277.2V281.2M534.7 279.2H538.7"/><path d="M540.15 260.9L544.75 265.5M540.15 265.5L544.75 260.9M542.45 261.2V265.2M540.45 263.2H544.45"/><path d="M545.89 253.5L550.49 258.1M545.89 258.1L550.49 253.5M548.19 253.8V257.8M546.19 255.8H550.19"/></g>
<path d="M481.1 227.1H494.7" stroke="#1a1aff" stroke-width="0.8"/><circle cx="488" cy="227.1" r="1.85" fill="#fff" stroke="#1a1aff" stroke-width="0.8"/><path d="M481.1 234.4H494.7" stroke="#ff1a1a" stroke-width="0.8"/><g fill="none" stroke="#ff1a1a" stroke-width="0.95"><path d="M485.7 232.1L490.3 236.7M485.7 236.7L490.3 232.1M488 232.4V236.4M486 234.4H490"/></g>
<text class="l" x="498.3" y="229.6" textLength="45.8" lengthAdjust="spacingAndGlyphs">08时（3000m）</text><text class="l" x="498.3" y="236.9" textLength="45.8" lengthAdjust="spacingAndGlyphs">20时（3000m）</text>
</g>
</svg>
</body></html>
